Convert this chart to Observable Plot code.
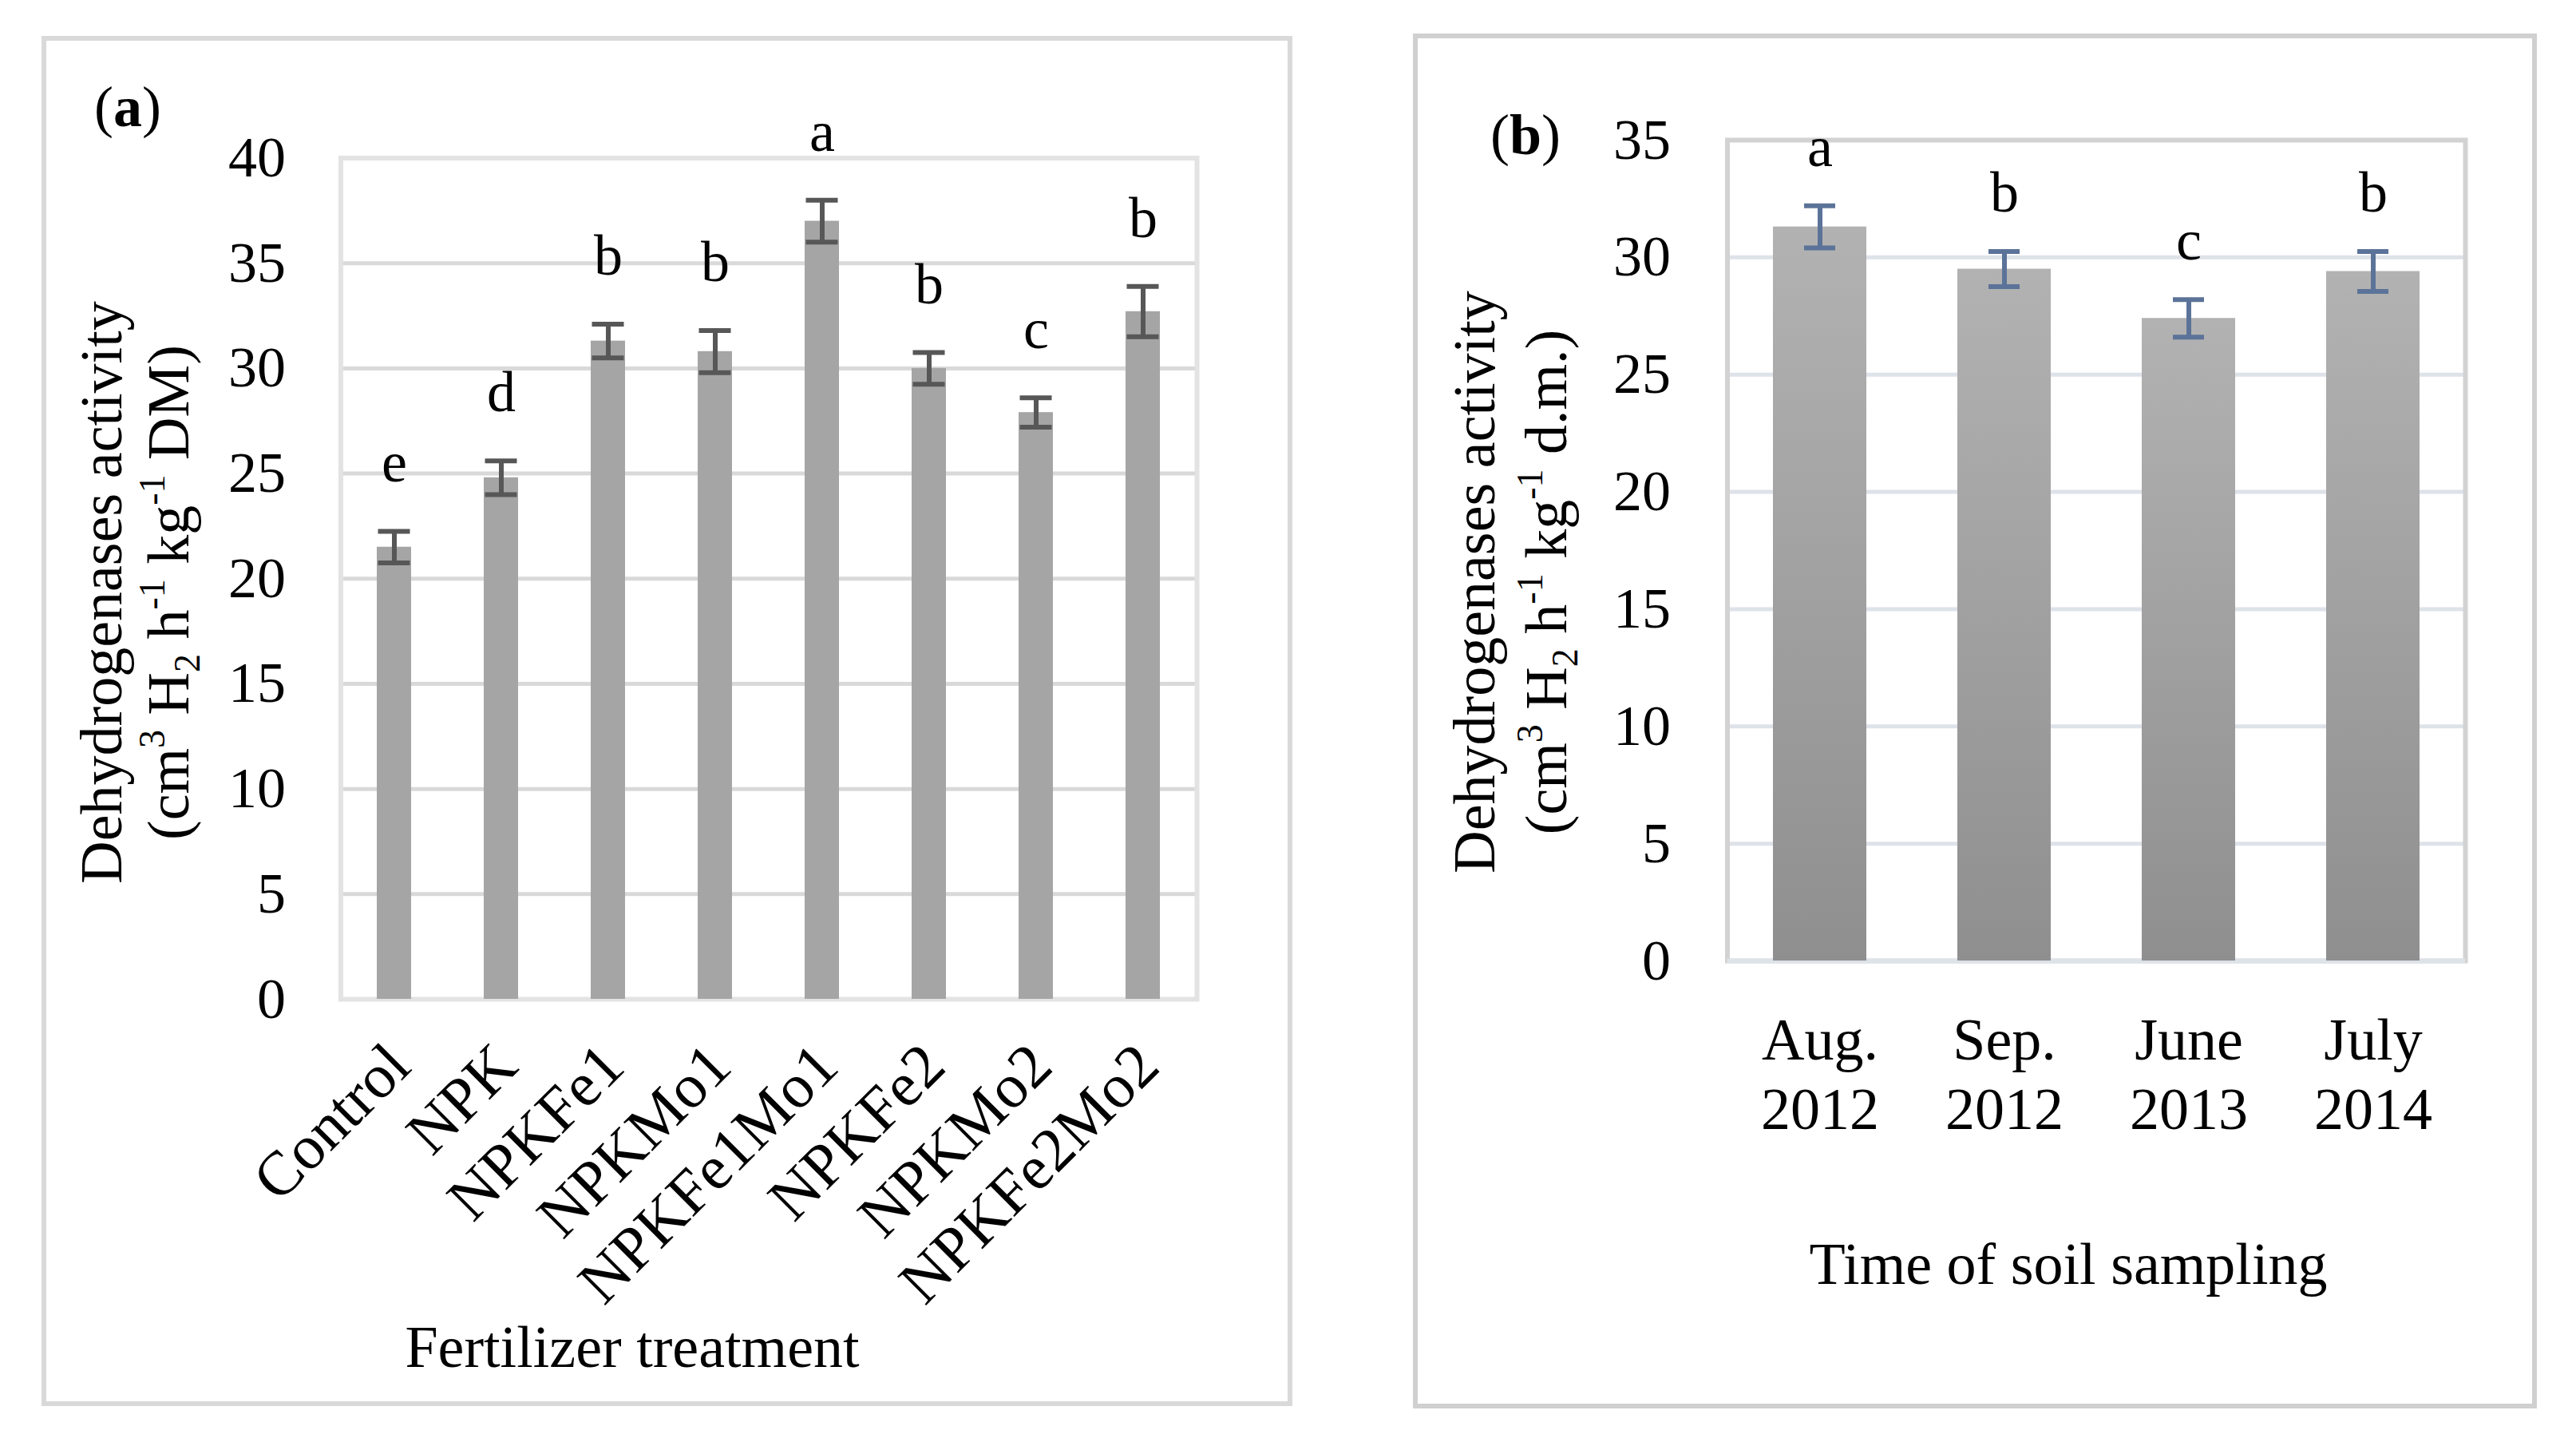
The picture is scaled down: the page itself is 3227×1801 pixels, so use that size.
<!DOCTYPE html>
<html><head><meta charset="utf-8">
<script src="https://cdn.jsdelivr.net/npm/d3@7"></script>
<script src="https://cdn.jsdelivr.net/npm/@observablehq/plot@0.6"></script>
<style>
html,body{margin:0;padding:0;background:#fff;}
#root{position:relative;width:3227px;height:1801px;background:#fff;overflow:hidden;}
.box{position:absolute;box-sizing:border-box;}
#boxA{left:52px;top:45px;width:1567px;height:1716px;border:6px solid #d9d9d9;}
#boxB{left:1770px;top:42px;width:1408px;height:1722px;border:6px solid #d0d0d0;}
#plotA{position:absolute;left:0;top:0;}
#plotB{position:absolute;left:1700px;top:0;}
</style></head>
<body><div id="root"><div class="box" id="boxA"></div><div class="box" id="boxB"></div><div id="plotA"></div><div id="plotB"></div></div>
<script>
// ---------- Panel (a): fertilizer treatment ----------
const treatments = ["Control", "NPK", "NPKFe1", "NPKMo1", "NPKFe1Mo1", "NPKFe2", "NPKMo2", "NPKFe2Mo2"];
const activityA = [21.5, 24.8, 31.3, 30.8, 37.0, 30.0, 27.9, 32.7];
const errorA = [0.75, 0.8, 0.8, 1.0, 1.0, 0.75, 0.7, 1.2];
const lettersA = ["e", "d", "b", "b", "a", "b", "c", "b"];
const yTicksA = [0, 5, 10, 15, 20, 25, 30, 35, 40];

// ---------- Panel (b): time of soil sampling ----------
const samplings = ["Aug. 2012", "Sep. 2012", "June 2013", "July 2014"];
const activityB = [31.3, 29.5, 27.4, 29.4];
const errorB = [0.9, 0.75, 0.8, 0.85];
const lettersB = ["a", "b", "c", "b"];
const yTicksB = [0, 5, 10, 15, 20, 25, 30, 35];

const FONT = '"Liberation Serif", "Times New Roman", serif';

const dataA = treatments.map((t, i) => ({t, v: activityA[i], e: errorA[i], l: lettersA[i]}));
const dataB = samplings.map((t, i) => ({t, v: activityB[i], e: errorB[i], l: lettersB[i]}));

const plotA = Plot.plot({
  width: 1700, height: 1801,
  marginLeft: 426.5, marginRight: 201, marginTop: 197.5, marginBottom: 550,
  style: {fontFamily: FONT, color: "#000", background: "transparent", overflow: "visible"},
  x: {domain: treatments, paddingInner: 0.68, paddingOuter: 0.34},
  y: {domain: [0, 40]},
  marks: [
    Plot.ruleY(yTicksA, {stroke: "#d9d9d9", strokeWidth: 5}),
    Plot.frame({stroke: "#e3e3e3", strokeWidth: 6}),
    Plot.barY(dataA, {x: "t", y: "v", fill: "#a5a5a5"}),
    Plot.ruleX(dataA, {x: "t", y1: d => d.v - d.e, y2: d => d.v + d.e, stroke: "#575757", strokeWidth: 6}),
    Plot.tickY(dataA, {x: "t", y: d => d.v + d.e, stroke: "#575757", strokeWidth: 6, insetLeft: 1.5, insetRight: 1.5}),
    Plot.tickY(dataA, {x: "t", y: d => d.v - d.e, stroke: "#575757", strokeWidth: 6, insetLeft: 1.5, insetRight: 1.5}),
    Plot.text(dataA, {x: "t", y: d => d.v + d.e, text: "l", dy: -62, lineAnchor: "bottom", fontSize: 72, fill: "#000"}),
    Plot.axisY({ticks: yTicksA, tickSize: 0, tickPadding: 69, fontSize: 72, label: null}),
    Plot.axisX({tickSize: 0, tickRotate: -45, tickPadding: 70, dx: 6, fontSize: 78, label: null})
  ]
});
document.getElementById("plotA").appendChild(plotA);

const plotB = Plot.plot({
  width: 1527, height: 1801,
  marginLeft: 463.5, marginRight: 139, marginTop: 175, marginBottom: 598,
  style: {fontFamily: FONT, color: "#000", background: "transparent", overflow: "visible"},
  x: {domain: samplings, paddingInner: 0.494, paddingOuter: 0.247},
  y: {domain: [0, 35]},
  marks: [
    Plot.ruleY(yTicksB, {stroke: "#dee2e9", strokeWidth: 5}),
    Plot.frame({stroke: "#d2d2d2", strokeWidth: 6}),
    Plot.ruleY([0], {stroke: "#dee2e9", strokeWidth: 6}),
    Plot.barY(dataB, {x: "t", y: "v", fill: "url(#gradB)"}),
    Plot.ruleX(dataB, {x: "t", y1: d => d.v - d.e, y2: d => d.v + d.e, stroke: "#5b7398", strokeWidth: 6}),
    Plot.tickY(dataB, {x: "t", y: d => d.v + d.e, stroke: "#5b7398", strokeWidth: 6, insetLeft: 39, insetRight: 39}),
    Plot.tickY(dataB, {x: "t", y: d => d.v - d.e, stroke: "#5b7398", strokeWidth: 6, insetLeft: 39, insetRight: 39}),
    Plot.text(dataB, {x: "t", y: d => d.v + d.e, text: "l", dy: -50, lineAnchor: "bottom", fontSize: 72, fill: "#000"}),
    Plot.axisY({ticks: yTicksB, tickSize: 0, tickPadding: 71, fontSize: 72, label: null}),
    Plot.axisX({tickSize: 0, tickPadding: 61, fontSize: 74, lineHeight: 1.18, tickFormat: d => d.replace(" ", "\n"), label: null})
  ]
});
document.getElementById("plotB").appendChild(plotB);

// gradient for panel (b) bars
const defs = d3.select(plotB).insert("defs", ":first-child");
const grad = defs.append("linearGradient").attr("id", "gradB").attr("x1", 0).attr("y1", 0).attr("x2", 0).attr("y2", 1);
grad.append("stop").attr("offset", "0%").attr("stop-color", "#b2b2b2");
grad.append("stop").attr("offset", "100%").attr("stop-color", "#8f8f8f");

// annotations: panel tags, axis titles, y labels with super/subscripts
function tag(svg, x, y, letter) {
  const t = d3.select(svg).append("text").attr("x", x).attr("y", y).attr("text-anchor", "start")
    .attr("font-family", FONT).attr("font-size", 72).attr("fill", "#000");
  t.append("tspan").text("(");
  t.append("tspan").attr("font-weight", "bold").text(letter);
  t.append("tspan").text(")");
}
function title(svg, x, y, str) {
  d3.select(svg).append("text").attr("x", x).attr("y", y).attr("text-anchor", "middle")
    .attr("font-family", FONT).attr("font-size", 74).attr("fill", "#000").text(str);
}
function yLabel(svg, x1, x2, yc, tail) {
  const g = d3.select(svg).append("g").attr("font-family", FONT).attr("font-size", 74).attr("fill", "#000");
  g.append("text").attr("transform", `translate(${x1},${yc}) rotate(-90)`).attr("text-anchor", "middle")
    .text("Dehydrogenases activity");
  const t = g.append("text").attr("transform", `translate(${x2},${yc}) rotate(-90)`).attr("text-anchor", "middle");
  const parts = [["(cm", 0], ["3", 1], [" H", 0], ["2", -1], [" h", 0], ["-1", 1], [" kg", 0], ["-1", 1], [" " + tail, 0]];
  let cur = 0;
  for (const [s, k] of parts) {
    const target = k === 1 ? -30 : k === -1 ? 14 : 0;
    const sp = t.append("tspan").attr("dy", target - cur).text(s);
    if (k !== 0) sp.attr("font-size", 46);
    cur = target;
  }
}
tag(plotA, 118, 158, "a");
tag(plotB, 167, 193, "b");
title(plotA, 792, 1712, "Fertilizer treatment");
title(plotB, 891, 1608, "Time of soil sampling");
yLabel(plotA, 152, 236, 742, "DM)");
yLabel(plotB, 172, 262, 729, "d.m.)");
</script>
</body></html>
